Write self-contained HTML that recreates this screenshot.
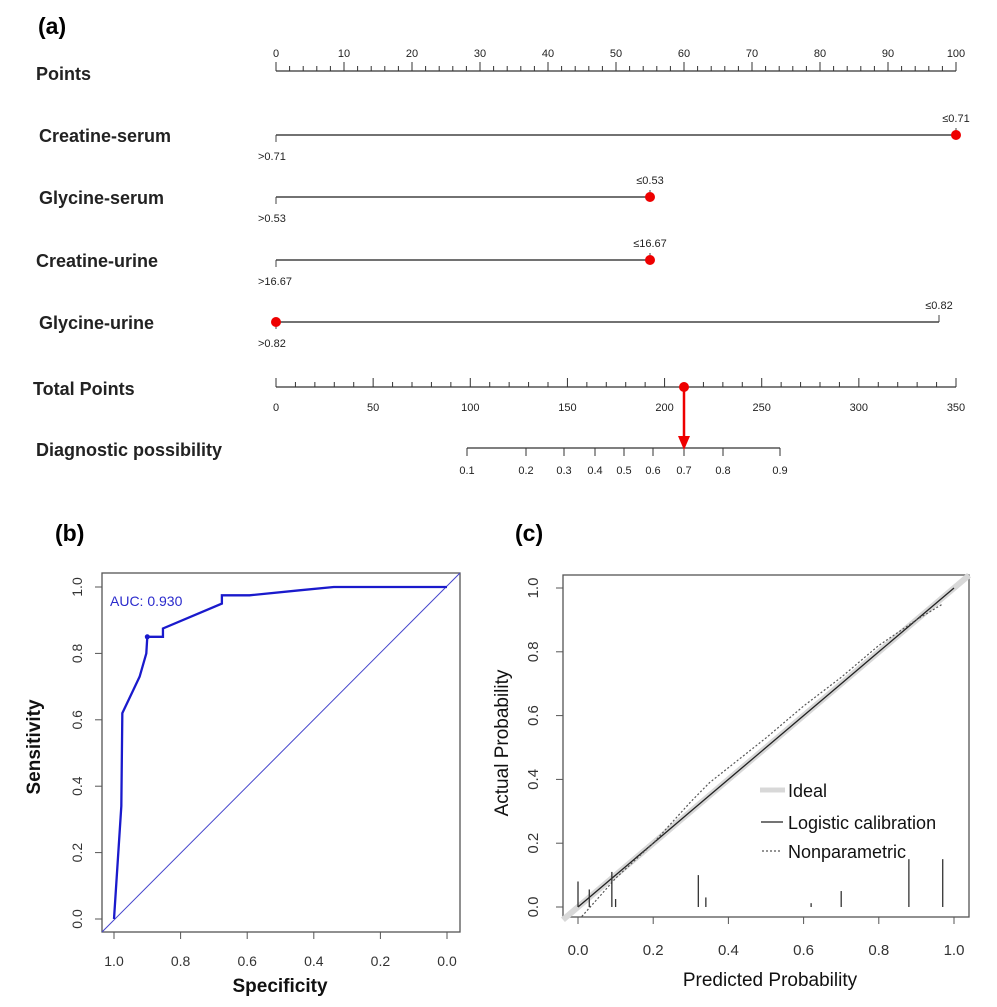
<!DOCTYPE html>
<html><head><meta charset="utf-8"><style>
body{margin:0;background:#fff}
svg{display:block;font-family:"Liberation Sans",sans-serif}
</style></head><body>
<svg id="s" width="997" height="1007" viewBox="0 0 997 1007">
<text x="38" y="34" font-size="23" font-weight="bold">(a)</text>
<text x="55" y="541" font-size="23" font-weight="bold">(b)</text>
<text x="515" y="541" font-size="23" font-weight="bold">(c)</text>
<g id="nomo"></g>
<g id="roc"></g>
<g id="cal"></g>
</svg>
<script>
// ---- Nomogram data ----
const varNames=["Creatine-serum","Glycine-serum","Creatine-urine","Glycine-urine"];
const varMaxPoints=[100,55,55,97.5];
const varLowLabels=[">0.71",">0.53",">16.67",">0.82"];
const varHighLabels=["≤0.71","≤0.53","≤16.67","≤0.82"];
const varSelectedPoints=[100,55,55,0];
const totalSelected=210;
const probTicks=[0.1,0.2,0.3,0.4,0.5,0.6,0.7,0.8,0.9];
const probTickPx=[467,526,564,595,624,653,684,723,780];
// ---- ROC data ----
const rocSpec=[1.0,0.978,0.975,0.923,0.903,0.9,0.853,0.853,0.676,0.676,0.593,0.443,0.34,0.0];
const rocSens=[0,0.34,0.62,0.73,0.80,0.85,0.85,0.875,0.95,0.975,0.975,0.99,1.0,1.0];
const rocTicks=[1.0,0.8,0.6,0.4,0.2,0.0];
// ---- Calibration data ----
const calPred=[0,0.1,0.2,0.3,0.4,0.5,0.6,0.7,0.8,0.9,1.0];
const calLogistic=[0,0.10,0.20,0.30,0.40,0.50,0.60,0.70,0.80,0.90,1.0];
const npPred=[0.01,0.1,0.2,0.3,0.35,0.5,0.6,0.7,0.8,0.9,0.97];
const npActual=[-0.03,0.09,0.2,0.33,0.39,0.53,0.63,0.72,0.82,0.90,0.95];
const rugX=[0.0,0.03,0.09,0.10,0.32,0.34,0.62,0.70,0.88,0.97];
const rugH=[0.08,0.055,0.11,0.025,0.10,0.03,0.012,0.05,0.15,0.15];
const calTicks=[0,0.2,0.4,0.6,0.8,1.0];

const NS="http://www.w3.org/2000/svg";
function mk(p,t,a,txt){const e=document.createElementNS(NS,t);for(const k in a)e.setAttribute(k,a[k]);if(txt!==undefined)e.textContent=txt;p.appendChild(e);return e;}

// Nomogram
const nomo=document.getElementById('nomo');
const px=v=>276+v*6.8, tx=v=>276+v*680/350;
const ptsLbl=mk(nomo,'text',{x:36,y:80,'font-size':18,'font-weight':'bold',fill:'#222'},'Points');


mk(nomo,'line',{x1:px(0),y1:71,x2:px(100),y2:71,stroke:'#333','stroke-width':1.3});
for(let v=0;v<=100;v+=2){mk(nomo,'line',{x1:px(v),y1:71,x2:px(v),y2:v%10==0?62:66,stroke:'#333'});}
for(let v=0;v<=100;v+=10){mk(nomo,'text',{x:px(v),y:57,'font-size':11,'text-anchor':'middle',fill:'#222'},v);}
const rowY=[135,197,260,322];
varNames.forEach((n,i)=>{
 const y=rowY[i];
 const l=mk(nomo,'text',{x:i==2?36:39,y:y+7,'font-size':18,'font-weight':'bold',fill:'#222'},n);
 
 
 mk(nomo,'line',{x1:px(0),y1:y,x2:px(varMaxPoints[i]),y2:y,stroke:'#444','stroke-width':1.5});
 mk(nomo,'line',{x1:px(0),y1:y,x2:px(0),y2:y+7,stroke:'#444'});
 mk(nomo,'line',{x1:px(varMaxPoints[i]),y1:y,x2:px(varMaxPoints[i]),y2:y-7,stroke:'#444'});
 mk(nomo,'text',{x:px(0)-18,y:y+25,'font-size':11,fill:'#222'},varLowLabels[i]);
 mk(nomo,'text',{x:px(varMaxPoints[i]),y:y-13,'font-size':11,'text-anchor':'middle',fill:'#222'},varHighLabels[i]);
 const d=mk(nomo,'circle',{cx:px(varSelectedPoints[i]),cy:y,r:5,fill:'#e00'});
 
 
});
const tl=mk(nomo,'text',{x:33,y:395,'font-size':18,'font-weight':'bold',fill:'#222'},'Total Points');


mk(nomo,'line',{x1:tx(0),y1:387,x2:tx(350),y2:387,stroke:'#333','stroke-width':1.3});
for(let v=0;v<=350;v+=10){mk(nomo,'line',{x1:tx(v),y1:387,x2:tx(v),y2:v%50==0?378:382,stroke:'#333'});}
for(let v=0;v<=350;v+=50){mk(nomo,'text',{x:tx(v),y:411,'font-size':11,'text-anchor':'middle',fill:'#222'},v);}
const dl=mk(nomo,'text',{x:36,y:456,'font-size':18,'font-weight':'bold',fill:'#222'},'Diagnostic possibility');


mk(nomo,'line',{x1:probTickPx[0],y1:448,x2:probTickPx[probTickPx.length-1],y2:448,stroke:'#333','stroke-width':1.3});
probTicks.forEach((t,i)=>{mk(nomo,'line',{x1:probTickPx[i],y1:448,x2:probTickPx[i],y2:456,stroke:'#333'});mk(nomo,'text',{x:probTickPx[i],y:474,'font-size':11,'text-anchor':'middle',fill:'#222'},t);});
const ax=tx(totalSelected);
const arr=mk(nomo,'line',{x1:ax,y1:387,x2:ax,y2:440,stroke:'#e00','stroke-width':2.5});


mk(nomo,'path',{d:`M${ax-6} 436 L${ax+6} 436 L${ax} 450 Z`,fill:'#e00'});
mk(nomo,'circle',{cx:ax,cy:387,r:5,fill:'#e00'});

// ROC
const roc=document.getElementById('roc');
const rx=s=>114+(1-s)*333, ry=v=>919-v*332;
mk(roc,'rect',{x:102,y:573,width:358,height:359,fill:'none',stroke:'#555','stroke-width':1.3});
rocTicks.forEach(t=>{
 mk(roc,'line',{x1:rx(t),y1:932,x2:rx(t),y2:939,stroke:'#555'});
 mk(roc,'text',{x:rx(t),y:966,'font-size':14,'text-anchor':'middle',fill:'#333'},t.toFixed(1));
 mk(roc,'line',{x1:95,y1:ry(t),x2:102,y2:ry(t),stroke:'#555'});
 mk(roc,'text',{x:0,y:0,'font-size':14,'text-anchor':'middle',fill:'#333',transform:`translate(82,${ry(t)}) rotate(-90)`},t.toFixed(1));
});
const sx=mk(roc,'text',{x:280,y:992,'font-size':19,'font-weight':'bold','text-anchor':'middle',fill:'#111'},'Specificity');


const sy=mk(roc,'text',{x:0,y:0,'font-size':19,'font-weight':'bold','text-anchor':'middle',fill:'#111',transform:'translate(40,747) rotate(-90)'},'Sensitivity');


mk(roc,'line',{x1:102,y1:932,x2:460,y2:573,stroke:'#4444cc','stroke-width':1});
const rp=mk(roc,'polyline',{points:rocSpec.map((s,i)=>rx(s)+','+ry(rocSens[i])).join(' '),fill:'none',stroke:'#1a1acc','stroke-width':2.3});


mk(roc,'circle',{cx:rx(rocSpec[5]),cy:ry(rocSens[5]),r:2.5,fill:'#1a1acc'});
const auc=mk(roc,'text',{x:110,y:606,'font-size':14,fill:'#2a2acc'},'AUC: 0.930');



// Calibration
const cal=document.getElementById('cal');
const cx=v=>578+v*376, cy=v=>907-v*319;
mk(cal,'rect',{x:563,y:575,width:406,height:342,fill:'none',stroke:'#555','stroke-width':1.3});
calTicks.forEach(t=>{
 mk(cal,'line',{x1:cx(t),y1:917,x2:cx(t),y2:924,stroke:'#555'});
 mk(cal,'text',{x:cx(t),y:955,'font-size':15,'text-anchor':'middle',fill:'#333'},t.toFixed(1));
 mk(cal,'line',{x1:556,y1:cy(t),x2:563,y2:cy(t),stroke:'#555'});
 mk(cal,'text',{x:0,y:0,'font-size':15,'text-anchor':'middle',fill:'#333',transform:`translate(538,${cy(t)}) rotate(-90)`},t.toFixed(1));
});
const cxl=mk(cal,'text',{x:770,y:986,'font-size':19,'text-anchor':'middle',fill:'#111'},'Predicted Probability');


const cyl=mk(cal,'text',{x:0,y:0,'font-size':19,'text-anchor':'middle',fill:'#111',transform:'translate(508,743) rotate(-90)'},'Actual Probability');


const ideal=mk(cal,'line',{x1:cx(-0.04),y1:cy(-0.04),x2:cx(1.04),y2:cy(1.04),stroke:'#d8d8d8','stroke-width':6});


const lg=mk(cal,'polyline',{points:calPred.map((p,i)=>cx(p)+','+cy(calLogistic[i])).join(' '),fill:'none',stroke:'#222','stroke-width':1.3});


const np=mk(cal,'polyline',{points:npPred.map((p,i)=>cx(p)+','+cy(npActual[i])).join(' '),fill:'none',stroke:'#555','stroke-width':1.2,'stroke-dasharray':'2,2'});


rugX.forEach((r,i)=>{
 const t=mk(cal,'line',{x1:cx(r),y1:cy(0),x2:cx(r),y2:cy(rugH[i]),stroke:'#333','stroke-width':1.3});
 
 
});
mk(cal,'line',{x1:760,y1:790,x2:785,y2:790,stroke:'#d8d8d8','stroke-width':5});
mk(cal,'line',{x1:761,y1:822,x2:783,y2:822,stroke:'#222','stroke-width':1.3});
mk(cal,'line',{x1:762,y1:851,x2:782,y2:851,stroke:'#555','stroke-width':1.2,'stroke-dasharray':'2,2'});
[['Ideal',797],['Logistic calibration',829],['Nonparametric',858]].forEach(([t,y])=>{
 const e=mk(cal,'text',{x:788,y:y,'font-size':18,fill:'#111'},t);
 
 
});
</script>
</body></html>
